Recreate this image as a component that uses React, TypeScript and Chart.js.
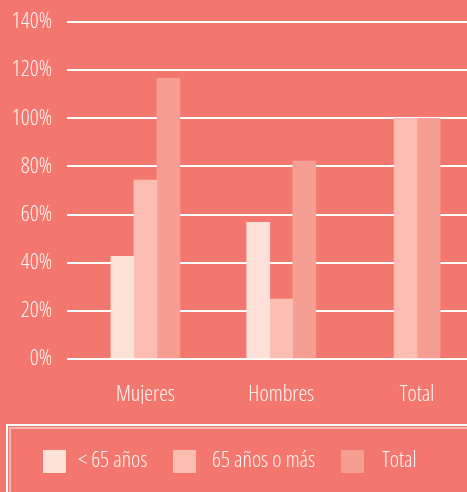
import { useEffect, useRef } from "react";
import { Chart, registerables } from "chart.js";

Chart.register(...registerables);

const categories = ["Mujeres", "Hombres", "Total"];
const seriesLabels = ["< 65 años", "65 años o más", "Total"];
const menores65: (number | null)[] = [42.7, 56.8, null];
const mayores65: (number | null)[] = [74.3, 24.9, 100];
const totales: (number | null)[] = [116.6, 82.2, 100];
const yMax = 140;
const yStep = 20;

const FAMILY = "'Open Sans', 'Roboto Condensed', sans-serif";
const WEIGHT = "360 condensed";
const SIZE = 22;
const TEXT = "#FFF6F3";
const BG = "#F3776F";
const COLORS = ["#FDE1D8", "#FBBDB1", "#F79E92"];

const boxLegend = {
  id: "boxLegend",
  afterDraw(chart: any) {
    const ctx = chart.ctx as CanvasRenderingContext2D;
    ctx.save();
    ctx.lineWidth = 2;
    ctx.strokeStyle = "#F9B7AF";
    ctx.strokeRect(10, 428, chart.width + 40, 200);
    ctx.strokeStyle = "#FFFFFF";
    ctx.strokeRect(7, 425, chart.width + 40, 200);
    const boxX = [43, 173, 341];
    const textX = [78, 212, 382];
    ctx.font = `${WEIGHT} ${SIZE}px ${FAMILY}`;
    ctx.textBaseline = "middle";
    ctx.textAlign = "left";
    chart.data.datasets.forEach((ds: any, i: number) => {
      ctx.fillStyle = ds.backgroundColor;
      ctx.fillRect(boxX[i], 450, 23, 23);
      ctx.fillStyle = TEXT;
      ctx.fillText(ds.label, textX[i], 461);
    });
    ctx.restore();
  },
};

export default function App() {
  const ref = useRef<HTMLCanvasElement>(null);
  useEffect(() => {
    const font = { family: FAMILY, size: SIZE, weight: WEIGHT as any };
    const chart = new Chart(ref.current!, {
      type: "bar",
      data: {
        labels: categories,
        datasets: [
          { label: seriesLabels[0], data: menores65, backgroundColor: COLORS[0] },
          { label: seriesLabels[1], data: mayores65, backgroundColor: COLORS[1] },
          { label: seriesLabels[2], data: totales, backgroundColor: COLORS[2] },
        ].map((d) => ({ ...d, barThickness: 23, skipNull: true, borderWidth: 0 })) as any,
      },
      options: {
        animation: false,
        responsive: false,
        maintainAspectRatio: false,
        devicePixelRatio: 1,
        layout: { padding: { top: 22, right: 5, bottom: 88, left: 0 } },
        plugins: { legend: { display: false }, tooltip: { enabled: false } },
        scales: {
          x: {
            grid: { display: false, drawTicks: false },
            border: { display: false },
            ticks: { color: TEXT, font, padding: 23 },
            afterFit: (s: any) => {
              s.height = 45;
            },
          },
          y: {
            min: 0,
            max: yMax,
            grid: { color: "#FFFFFF", lineWidth: 2, tickLength: 10.5, drawTicks: true },
            border: { display: false },
            ticks: {
              stepSize: yStep,
              color: TEXT,
              font: { ...font, lineHeight: 0.5 },
              padding: 15,
              callback: (v: any) => v + "%",
            },
            afterFit: (s: any) => {
              s.width = 77.5;
            },
          },
        },
      },
      plugins: [boxLegend],
    });
    return () => chart.destroy();
  }, []);
  return (
    <div
      style={{
        position: "fixed",
        left: 0,
        top: 0,
        width: "100vw",
        height: "100vh",
        overflow: "hidden",
        background: BG,
      }}
    >
      <canvas ref={ref} width={490} height={492} style={{ display: "block", width: 490, height: 492 }} />
    </div>
  );
}
